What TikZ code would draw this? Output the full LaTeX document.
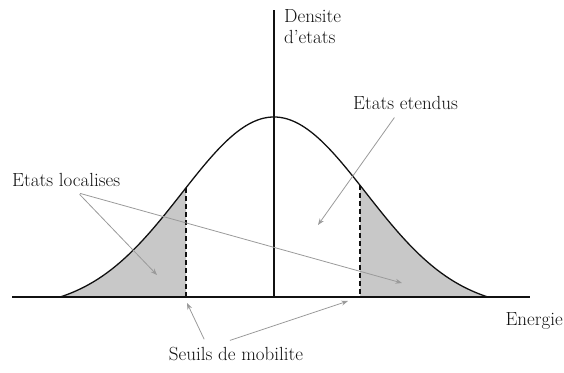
\documentclass[tikz,border=0pt]{standalone}
\usetikzlibrary{arrows.meta}
\definecolor{ink}{HTML}{111111}
\definecolor{shade}{HTML}{C8C8C8}
\definecolor{pointer}{HTML}{9A9A9A}
\tikzset{>=Stealth,
  every node/.style={font=\fontsize{19}{21}\selectfont,text=ink},
  axis/.style={draw=ink,line width=1.6pt},
  dos/.style={draw=ink,line width=1.3pt},
  edge/.style={draw=ink,line width=1.2pt,dash pattern=on 5pt off 3pt},
  tail/.style={fill=shade},
  pointer/.style={->,draw=pointer,line width=.8pt,shorten <=2pt}}
\newcommand{\dosy}[1]{297-180*(exp(-0.5*((#1-274)/92)^2)-0.067)/0.933}

\begin{document}
\begin{tikzpicture}[x=1pt,y=-1pt]
\useasboundingbox (0,0) rectangle (564,372);
\fill[tail] (60,297) -- plot[domain=60:186,samples=40] (\x,{\dosy{\x}}) -- (186,297) -- cycle;
\fill[tail] (360,297) -- plot[domain=360:488,samples=40] (\x,{\dosy{\x}}) -- (488,297) -- cycle;
\draw[dos] plot[domain=60:488,samples=100,smooth] (\x,{\dosy{\x}});
\draw[edge] (186,{\dosy{186}}) -- (186,297);
\draw[edge] (360,{\dosy{360}}) -- (360,297);
\draw[axis] (12,297) -- (530,297);
\draw[axis] (274,297) -- (274,10);
\node[align=left,anchor=north west,inner sep=0pt] (dens) at (284,9) {Densite\\d'etats};
\node[anchor=north east,inner sep=0pt] (ener) at (563,312) {Energie};
\node[anchor=west,inner sep=0pt] (loc) at (12,180) {Etats localises};
\node[anchor=west,inner sep=0pt] (ext) at (353,103) {Etats etendus};
\node[inner sep=0pt] (seuil) at (236,354) {Seuils de mobilite};
\coordinate (locA) at (157,275);
\coordinate (locB) at (402,283);
\coordinate (extA) at (318,225);
\coordinate (seuA) at (187,303);
\coordinate (seuB) at (348,301);
\draw[pointer] ([xshift=12pt,yshift=-6pt]loc.south) -- (locA);
\draw[pointer] ([xshift=12pt,yshift=-6pt]loc.south) -- (locB);
\draw[pointer] ([xshift=-10pt,yshift=-6pt]ext.south) -- (extA);
\draw[pointer] ([xshift=-31pt,yshift=6pt]seuil.north) -- (seuA);
\draw[pointer] ([xshift=-8pt,yshift=6pt]seuil.north) -- (seuB);
\end{tikzpicture}
\end{document}
